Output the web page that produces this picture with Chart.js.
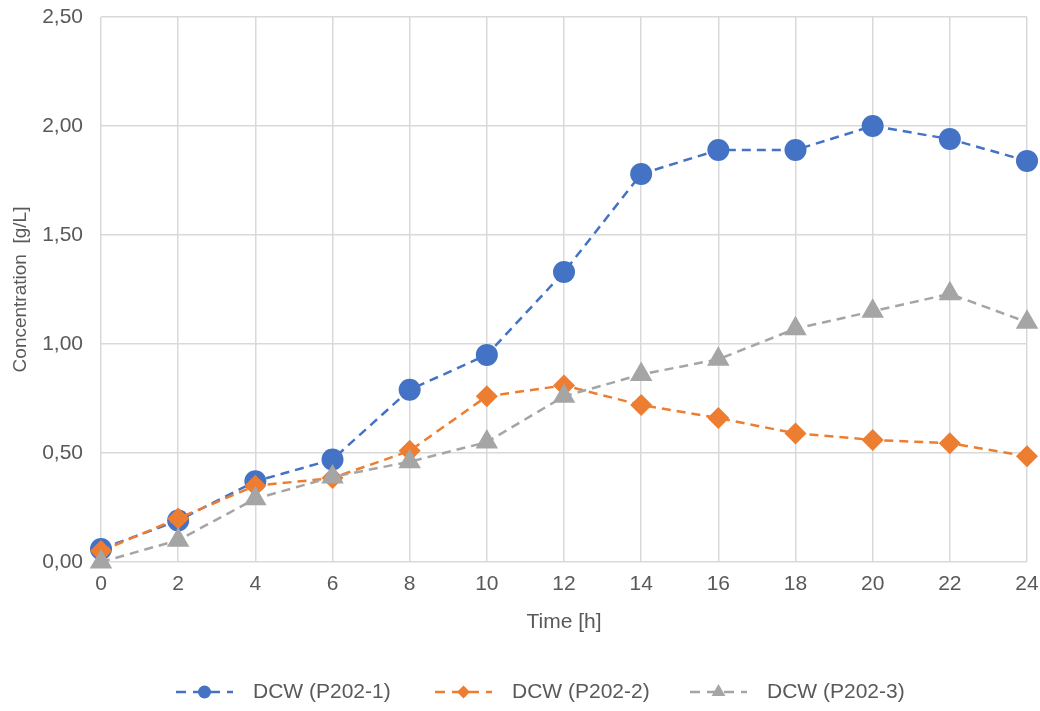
<!DOCTYPE html>
<html>
<head>
<meta charset="utf-8">
<script src="https://cdn.jsdelivr.net/npm/chart.js@4/dist/chart.umd.min.js"></script>
<style>
  html, body { margin: 0; padding: 0; background: #fff; }
  #wrap { width: 1040px; height: 711px; }
</style>
</head>
<body>
<div id="wrap"><canvas id="dcwChart" width="1040" height="711"></canvas></div>
<script>
// data
var hours = [0, 2, 4, 6, 8, 10, 12, 14, 16, 18, 20, 22, 24];
var dcw1 = [0.06, 0.19, 0.37, 0.47, 0.79, 0.95, 1.33, 1.78, 1.89, 1.89, 2.00, 1.94, 1.84];
var dcw2 = [0.05, 0.20, 0.35, 0.385, 0.51, 0.76, 0.81, 0.72, 0.66, 0.59, 0.56, 0.545, 0.485];
var dcw3 = [0.00, 0.10, 0.29, 0.39, 0.46, 0.55, 0.76, 0.86, 0.93, 1.07, 1.15, 1.23, 1.10];
var seriesNames = ['DCW (P202-1)', 'DCW (P202-2)', 'DCW (P202-3)'];
var yTicks = [0, 0.5, 1, 1.5, 2, 2.5];

var textColor = '#595959';
var gridColor = '#d9d9d9';
var fontFamily = '"Liberation Sans", Arial, sans-serif';
var fontSize = 21;

function toPoints(values) {
    return hours.map(function(h, i) { return { x: h, y: values[i] }; });
}

function makeSet(label, values, color, style, radius, order) {
    return {
        label: label,
        data: toPoints(values),
        borderColor: color,
        backgroundColor: color,
        borderWidth: 2.5,
        borderDash: [9, 6],
        pointStyle: style,
        pointRadius: radius,
        pointHoverRadius: radius,
        pointBorderWidth: 0,
        tension: 0,
        clip: false,
        order: order
    };
}

// legend drawn by hand: dashed line with marker, like the spreadsheet legend
var lineLegend = {
    id: 'lineLegend',
    afterDraw: function(chart) {
        var ctx = chart.ctx;
        var y = 692;
        var lineW = 57, gapText = 20;
        var starts = [176, 435, 690];
        ctx.save();
        ctx.font = fontSize + 'px ' + fontFamily;
        chart.data.datasets.forEach(function(ds, i) {
            var x = starts[i];
            ctx.strokeStyle = ds.borderColor;
            ctx.lineWidth = 2.5;
            ctx.setLineDash([10, 7]);
            ctx.beginPath();
            ctx.moveTo(x, y);
            ctx.lineTo(x + lineW, y);
            ctx.stroke();
            ctx.setLineDash([]);
            ctx.fillStyle = ds.backgroundColor;
            Chart.helpers.drawPoint(ctx, {
                pointStyle: ds.pointStyle, rotation: 0, borderWidth: 0,
                radius: ds.pointStyle === 'triangle' ? 8 : 6.5
            }, x + lineW / 2, y);
            ctx.fillStyle = textColor;
            ctx.textBaseline = 'middle';
            ctx.textAlign = 'left';
            ctx.fillText(ds.label, x + lineW + gapText, y);
        });
        ctx.restore();
    }
};

var ctx = document.getElementById('dcwChart').getContext('2d');
var dcwChart = new Chart(ctx, {
    type: 'line',
    data: {
        datasets: [
            makeSet(seriesNames[0], dcw1, '#4472C4', 'circle', 11, 2),
            makeSet(seriesNames[1], dcw2, '#ED7D31', 'rectRot', 11, 1),
            makeSet(seriesNames[2], dcw3, '#A5A5A5', 'triangle', 13, 0)
        ]
    },
    options: {
        responsive: false,
        animation: false,
        layout: { padding: { left: 0, right: 9, top: 17, bottom: 69 } },
        plugins: {
            legend: { display: false },
            tooltip: { enabled: false }
        },
        scales: {
            x: {
                type: 'linear',
                min: 0,
                max: 24,
                afterFit: function(scale) {
                    scale.height = 80;
                    scale.paddingLeft = 0;
                    scale.paddingRight = 0;
                },
                ticks: {
                    stepSize: 2,
                    padding: 10,
                    color: textColor,
                    font: { family: fontFamily, size: fontSize }
                },
                grid: { color: gridColor, lineWidth: 1.5, drawTicks: false },
                border: { display: false },
                title: {
                    display: true,
                    text: 'Time [h]',
                    color: textColor,
                    padding: { top: 4, bottom: 7 },
                    font: { family: fontFamily, size: fontSize }
                }
            },
            y: {
                min: 0,
                max: 2.5,
                afterFit: function(scale) {
                    scale.width = 101;
                    scale.paddingTop = 0;
                    scale.paddingBottom = 0;
                },
                afterBuildTicks: function(scale) {
                    scale.ticks = yTicks.map(function(v) { return { value: v }; });
                },
                ticks: {
                    padding: 18,
                    color: textColor,
                    font: { family: fontFamily, size: fontSize },
                    callback: function(v) { return v.toFixed(2).replace('.', ','); }
                },
                grid: { color: gridColor, lineWidth: 1.5, drawTicks: false },
                border: { display: false },
                title: {
                    display: true,
                    text: 'Concentration  [g/L]',
                    color: textColor,
                    padding: { top: 9, bottom: 0 },
                    font: { family: fontFamily, size: 19 }
                }
            }
        }
    },
    plugins: [lineLegend]
});
</script>
</body>
</html>
